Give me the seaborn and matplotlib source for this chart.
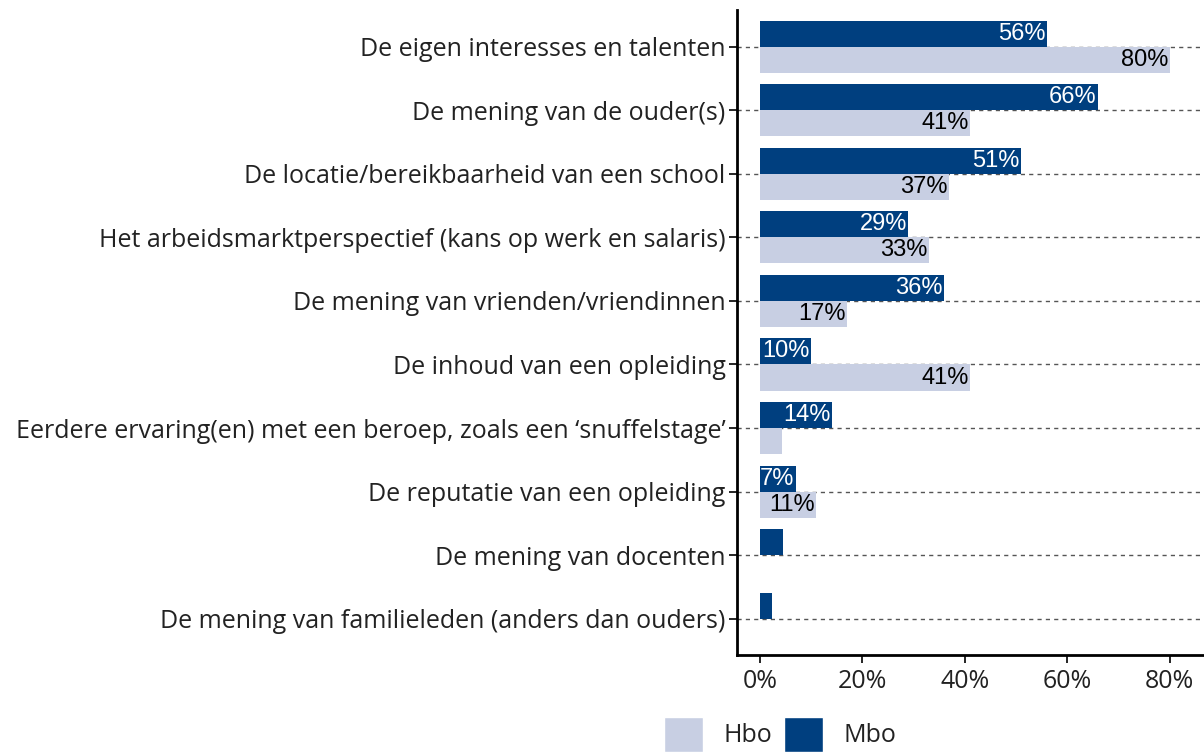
import pandas as pd
import numpy as np
import matplotlib.pyplot as plt
import seaborn as sns
from matplotlib.patches import Patch

categories = [
    "De eigen interesses en talenten",
    "De mening van de ouder(s)",
    "De locatie/bereikbaarheid van een school",
    "Het arbeidsmarktperspectief (kans op werk en salaris)",
    "De mening van vrienden/vriendinnen",
    "De inhoud van een opleiding",
    "Eerdere ervaring(en) met een beroep, zoals een \u2018snuffelstage\u2019",
    "De reputatie van een opleiding",
    "De mening van docenten",
    "De mening van familieleden (anders dan ouders)",
]
mbo = [56, 66, 51, 29, 36, 10, 14, 7, 4.5, 2.3]
hbo = [80, 41, 37, 33, 17, 41, 4.3, 11, 0, 0]

df = pd.DataFrame({
    "Categorie": categories * 2,
    "Groep": ["Mbo"] * len(categories) + ["Hbo"] * len(categories),
    "Waarde": mbo + hbo,
})

colors = {"Mbo": "#003f7f", "Hbo": "#c8cfe3"}

sns.set_style("white")
plt.rcParams["font.family"] = ["Open Sans", "DejaVu Sans"]

fig = plt.figure(figsize=(12.04, 7.52), dpi=100)
ax = fig.add_axes([0.612, 0.129, 0.388, 0.858])

# horizontal dashed gridlines behind bars
for i in range(len(categories)):
    ax.axhline(i, color="#555555", linestyle=(0, (3, 3)), linewidth=1, zorder=0)

sns.barplot(
    data=df, y="Categorie", x="Waarde", hue="Groep",
    hue_order=["Mbo", "Hbo"], order=categories, palette=colors,
    width=0.82, orient="h", ax=ax, legend=False, saturation=1, zorder=2,
    linewidth=0,
)

# value labels inside bar ends
for cont, grp in zip(ax.containers, ["Mbo", "Hbo"]):
    labels = [f"{v:.0f}%" if v >= 7 else "" for v in cont.datavalues]
    ax.bar_label(
        cont, labels=labels, padding=-1, fontsize=17,
        family="Liberation Sans",
        color="white" if grp == "Mbo" else "black",
    )
for t in ax.texts:
    t.set_ha("right")
    t.set_va("center")

ax.set_xlim(-4.5, 86.7)
ax.set_ylim(len(categories) - 0.43, -0.58)
ax.set_xticks([0, 20, 40, 60, 80])
ax.set_xticklabels(["0%", "20%", "40%", "60%", "80%"])
ax.set_xlabel("")
ax.set_ylabel("")
ax.tick_params(axis="both", colors="black", length=6, width=1.2,
               direction="out", left=True, bottom=True, labelcolor="#222222")
ax.tick_params(axis="y", pad=2, labelsize=18)
ax.tick_params(axis="x", pad=4, labelsize=18)

for s in ["top", "right"]:
    ax.spines[s].set_visible(False)
for s in ["left", "bottom"]:
    ax.spines[s].set_color("black")
    ax.spines[s].set_linewidth(2)

handles = [Patch(facecolor=colors["Hbo"], label="Hbo"),
           Patch(facecolor=colors["Mbo"], label="Mbo")]
fig.legend(handles=handles, loc="lower center", bbox_to_anchor=(0.648, -0.03),
           ncol=2, frameon=False, fontsize=18, handlelength=1.55, handleheight=1.8,
           columnspacing=0.45, handletextpad=0.85, labelcolor="#222222")

fig.savefig("out.png", dpi=100)
